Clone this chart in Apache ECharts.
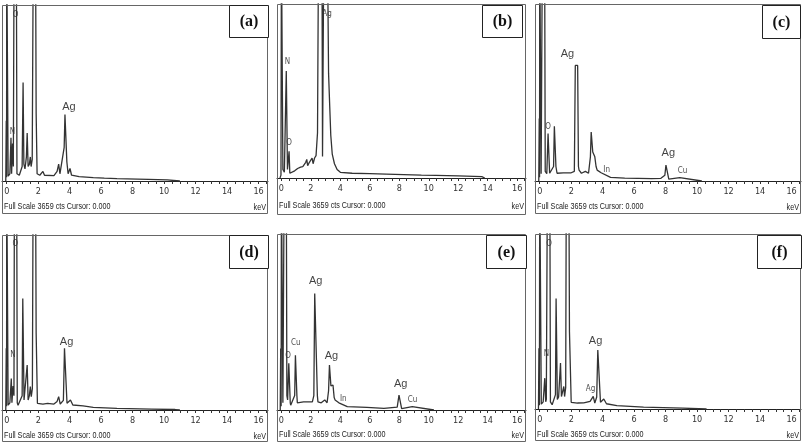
<!DOCTYPE html>
<html>
<head>
<meta charset="utf-8">
<script src="https://cdn.jsdelivr.net/npm/echarts@6/dist/echarts.min.js"></script>
<style>html,body{margin:0;padding:0;background:#fff}#c{width:803px;height:445px}</style>
</head>
<body>
<div id="c"></div>
<script>
// ---- data (keV, counts); full scale = 3659 cts, values above are clipped ----
const fullScale = 3659;
const panelNames = ['(a)', '(b)', '(c)', '(d)', '(e)', '(f)'];
const tickLabelValues = [0, 2, 4, 6, 8, 10, 12, 14, 16];
const minorTickValues = [0, 0.5, 1, 1.5, 2, 2.5, 3, 3.5, 4, 4.5, 5, 5.5, 6, 6.5, 7, 7.5, 8, 8.5, 9, 9.5, 10, 10.5, 11, 11.5, 12, 12.5, 13, 13.5, 14, 14.5, 15, 15.5, 16, 16.5];
const footerText = 'Full Scale 3659 cts Cursor: 0.000';
const unitText = 'keV';

const spectrumA = [[-0.06,0],[-0.03,1250],[-0.01,80],[0.0,5000],[0.06,5000],[0.09,100],[0.2,150],[0.27,900],[0.31,150],[0.37,780],[0.42,300],[0.47,5000],[0.61,5000],[0.65,150],[0.8,120],[0.98,300],[1.04,2050],[1.09,350],[1.16,250],[1.25,500],[1.3,1000],[1.36,300],[1.44,350],[1.5,500],[1.55,300],[1.62,450],[1.69,5000],[1.83,5000],[1.87,1400],[1.93,150],[2.1,120],[2.3,200],[2.4,120],[3.0,110],[3.2,200],[3.3,350],[3.38,150],[3.5,150],[3.65,700],[3.7,1380],[3.76,1380],[3.82,400],[3.9,150],[4.02,260],[4.12,120],[4.6,90],[5.5,70],[6.2,60],[7.0,50],[8.3,40],[9.0,35],[10.2,25],[11.0,0]];
const spectrumB = [[-0.1,0],[-0.03,60],[0.0,5000],[0.06,5000],[0.1,180],[0.2,120],[0.28,150],[0.33,2250],[0.37,2250],[0.41,180],[0.46,150],[0.52,560],[0.57,100],[0.7,100],[0.9,150],[1.1,200],[1.3,230],[1.45,240],[1.55,260],[1.65,330],[1.72,390],[1.78,260],[1.9,330],[2.0,300],[2.08,420],[2.15,300],[2.25,420],[2.35,470],[2.45,950],[2.52,5000],[2.75,5000],[2.79,450],[2.84,450],[2.88,5000],[3.12,5000],[3.2,2200],[3.28,1500],[3.35,900],[3.45,500],[3.6,300],[3.78,180],[4.0,120],[4.8,100],[6.0,90],[7.1,80],[8.3,70],[9.5,60],[10.5,55],[12.0,45],[13.6,30],[13.8,0]];
const spectrumC = [[-0.06,0],[-0.03,1290],[-0.01,80],[0.0,5000],[0.05,5000],[0.09,150],[0.17,5000],[0.31,5000],[0.35,200],[0.45,150],[0.53,980],[0.58,980],[0.63,160],[0.7,160],[0.88,300],[0.93,1130],[0.98,1130],[1.03,300],[1.1,160],[1.5,170],[2.0,170],[2.2,200],[2.26,2390],[2.41,2390],[2.46,300],[2.5,225],[2.65,160],[2.9,200],[3.1,160],[3.22,500],[3.27,1010],[3.32,1010],[3.37,600],[3.42,570],[3.5,500],[3.58,300],[3.65,225],[3.9,170],[4.5,75],[5.4,60],[7.1,50],[7.7,55],[7.95,120],[8.02,330],[8.1,330],[8.2,40],[8.9,70],[9.0,40],[10.3,0]];
const spectrumD = [[-0.06,0],[-0.03,1290],[-0.01,80],[0.0,5000],[0.06,5000],[0.09,100],[0.2,150],[0.29,660],[0.33,150],[0.4,500],[0.46,300],[0.49,5000],[0.63,5000],[0.67,150],[0.72,100],[0.98,300],[1.02,2330],[1.06,2330],[1.1,210],[1.2,250],[1.3,940],[1.36,210],[1.44,300],[1.5,490],[1.56,280],[1.63,450],[1.68,5000],[1.83,5000],[1.87,1600],[1.95,140],[2.3,125],[2.6,140],[3.0,125],[3.2,180],[3.3,280],[3.4,125],[3.6,200],[3.67,1290],[3.77,1290],[3.83,140],[3.95,150],[4.05,210],[4.2,105],[4.85,85],[5.5,55],[7.0,35],[9.2,20],[10.7,10],[11.0,0]];
const spectrumE = [[-0.08,0],[-0.05,1280],[-0.02,80],[0.0,5000],[0.06,5000],[0.1,150],[0.19,5000],[0.33,5000],[0.37,300],[0.42,210],[0.5,970],[0.55,970],[0.6,150],[0.63,100],[0.9,300],[0.95,1140],[1.0,1140],[1.05,300],[1.08,150],[1.5,170],[2.1,170],[2.2,300],[2.26,2420],[2.39,2420],[2.44,300],[2.48,170],[2.7,150],[2.94,210],[3.1,150],[3.2,400],[3.26,935],[3.31,935],[3.36,500],[3.42,480],[3.5,520],[3.58,260],[3.64,210],[3.9,150],[4.47,70],[5.8,55],[6.96,35],[7.86,60],[7.98,310],[8.06,310],[8.16,30],[8.88,70],[9.0,30],[10.35,0]];
const spectrumF = [[-0.08,0],[-0.05,1270],[-0.02,80],[0.0,5000],[0.06,5000],[0.1,100],[0.22,150],[0.32,645],[0.38,150],[0.42,200],[0.49,5000],[0.64,5000],[0.68,150],[0.79,90],[1.0,300],[1.04,2310],[1.08,2310],[1.12,200],[1.2,250],[1.32,960],[1.38,260],[1.46,300],[1.53,470],[1.58,260],[1.65,450],[1.69,5000],[1.85,5000],[1.89,1615],[2.0,140],[2.4,125],[2.8,130],[3.2,160],[3.4,265],[3.5,125],[3.62,250],[3.69,1235],[3.79,1235],[3.86,140],[3.97,150],[4.07,208],[4.24,110],[4.9,70],[6.6,40],[9.1,20],[10.6,0]];

const majorLabelsA = [[3.95,1540,'Ag']];
const minorLabelsA = [[0.36,1025,'N'],[0.56,3450,'O']];
const majorLabelsB = [];
const minorLabelsB = [[0.41,2440,'N'],[0.52,740,'O'],[3.1,3450,'Ag']];
const majorLabelsC = [[1.76,2620,'Ag'],[8.17,575,'Ag']];
const minorLabelsC = [[0.53,1110,'O'],[4.25,230,'In'],[9.08,215,'Cu']];
const majorLabelsD = [[3.8,1430,'Ag']];
const minorLabelsD = [[0.4,1150,'N'],[0.55,3470,'O']];
const majorLabelsE = [[2.33,2690,'Ag'],[3.39,1120,'Ag'],[8.09,540,'Ag']];
const minorLabelsE = [[0.97,1400,'Cu'],[0.46,1120,'O'],[4.2,220,'In'],[8.9,210,'Cu']];
const majorLabelsF = [[3.55,1420,'Ag']];
const minorLabelsF = [[0.42,1160,'N'],[0.6,3450,'O'],[3.23,430,'Ag']];

const spectra = [spectrumA, spectrumB, spectrumC, spectrumD, spectrumE, spectrumF];
const majorLabels = [majorLabelsA, majorLabelsB, majorLabelsC, majorLabelsD, majorLabelsE, majorLabelsF];
const minorLabels = [minorLabelsA, minorLabelsB, minorLabelsC, minorLabelsD, minorLabelsE, minorLabelsF];

// ---- layout (pixels) ----
const layout = [
  {fl:2,   fr:268, ft:5,   ax:181, fb:214, bx:229, by:5,   bw:39, bh:32, ty:207},
  {fl:277, fr:526, ft:4,   ax:178, fb:215, bx:482, by:5,   bw:40, bh:32, ty:206},
  {fl:535, fr:801, ft:4,   ax:181, fb:214, bx:762, by:5,   bw:38, bh:33, ty:207},
  {fl:2,   fr:268, ft:235, ax:410, fb:442, bx:229, by:235, bw:39, bh:33, ty:436},
  {fl:277, fr:526, ft:234, ax:410, fb:442, bx:486, by:235, bw:40, bh:33, ty:435},
  {fl:535, fr:801, ft:234, ax:409, fb:441, bx:757, by:235, bw:44, bh:33, ty:435}
];
const narrow = '"Liberation Sans Narrow","DejaVu Sans Condensed","Liberation Sans",Arial,sans-serif';
const sans = '"Liberation Sans",Arial,sans-serif';

const grids = [], xAxes = [], yAxes = [], series = [], graphics = [];
layout.forEach((L, i) => {
  grids.push({left: L.fl, top: L.ft, width: L.fr - L.fl, height: L.ax - L.ft, show: false});
  xAxes.push({
    type: 'value', gridIndex: i, min: -0.3, max: 16.6,
    axisLine: {show: true, lineStyle: {color: '#222', width: 1}},
    axisTick: {show: true, inside: false, length: 3, customValues: minorTickValues, lineStyle: {color: '#333'}},
    axisLabel: {show: true, customValues: tickLabelValues, fontSize: 9, color: '#333', margin: 6, fontFamily: narrow},
    splitLine: {show: false}
  });
  yAxes.push({type: 'value', gridIndex: i, min: 0, max: fullScale, show: false, splitLine: {show: false}});
  series.push({
    type: 'line', xAxisIndex: i, yAxisIndex: i, data: spectra[i], showSymbol: false, symbol: 'none',
    clip: true, lineStyle: {color: '#333', width: 1.3}, silent: true
  });
  series.push({
    type: 'scatter', xAxisIndex: i, yAxisIndex: i, data: majorLabels[i], symbolSize: 0, silent: true,
    label: {show: true, position: 'inside', formatter: p => p.data[2], fontSize: 11, color: '#111', fontFamily: sans}
  });
  series.push({
    type: 'scatter', xAxisIndex: i, yAxisIndex: i, data: minorLabels[i], symbolSize: 0, silent: true,
    label: {show: true, position: 'inside', formatter: p => p.data[2], fontSize: 8, color: '#222', fontFamily: narrow}
  });
  // outer frame
  graphics.push({type: 'rect', shape: {x: L.fl + 0.5, y: L.ft + 0.5, width: L.fr - L.fl - 1, height: L.fb - L.ft - 1},
    style: {fill: null, stroke: '#666', lineWidth: 1}, silent: true, z: 10});
  // panel letter box
  graphics.push({type: 'rect', shape: {x: L.bx + 0.5, y: L.by + 0.5, width: L.bw, height: L.bh},
    style: {fill: '#fff', stroke: '#222', lineWidth: 1}, silent: true, z: 11});
  graphics.push({type: 'text', x: L.bx + L.bw / 2 + 0.5, y: L.by + L.bh / 2 + 1,
    style: {text: panelNames[i], fontSize: 16, fontWeight: 'bold', fontFamily: '"Liberation Serif","Times New Roman",serif', fill: '#111', align: 'center', verticalAlign: 'middle'}, z: 12});
  graphics.push({type: 'text', x: L.fl + 2, y: L.ty, scaleX: 0.8,
    style: {text: footerText, fontSize: 9, fontFamily: sans, fill: '#222', align: 'left', verticalAlign: 'middle'}, z: 12});
  graphics.push({type: 'text', x: L.fr - 2, y: L.ty + 1, scaleX: 0.8,
    style: {text: unitText, fontSize: 9, fontFamily: sans, fill: '#222', align: 'right', verticalAlign: 'middle'}, z: 12});
});

const chart = echarts.init(document.getElementById('c'), null, {renderer: 'canvas'});
chart.setOption({
  animation: false,
  backgroundColor: '#fff',
  grid: grids, xAxis: xAxes, yAxis: yAxes, series: series, graphic: graphics
});
</script>
</body>
</html>
